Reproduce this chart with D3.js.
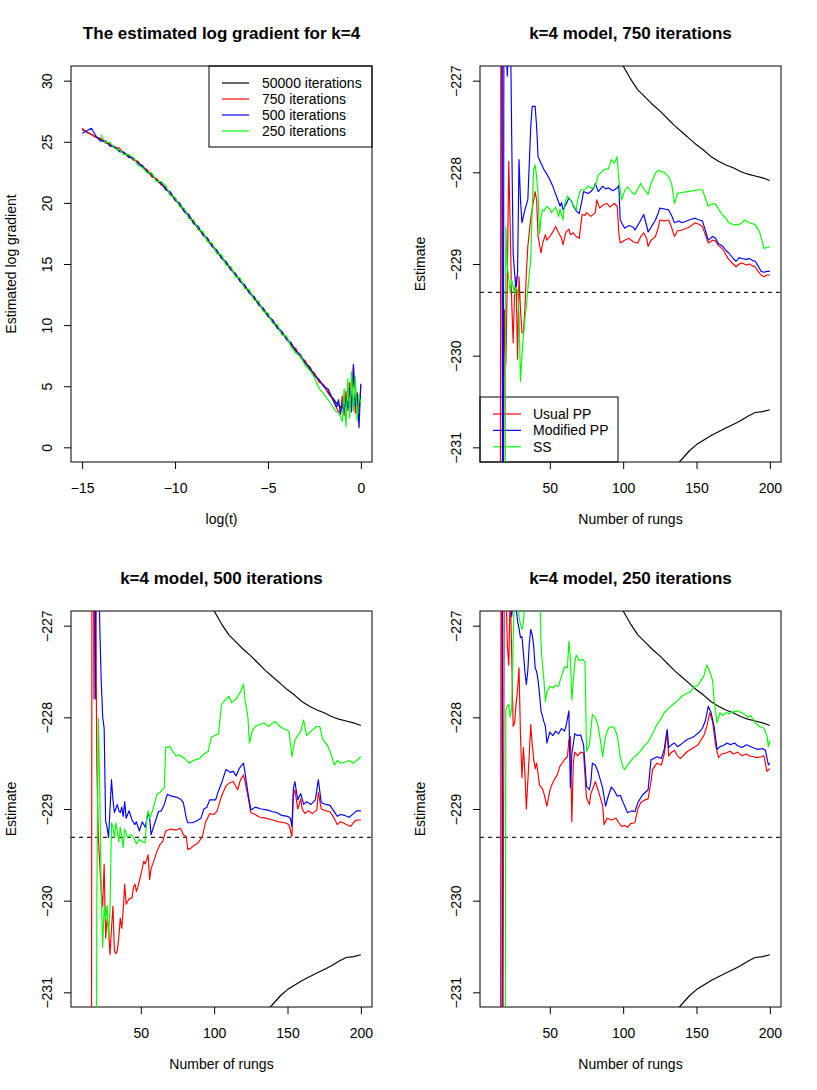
<!DOCTYPE html>
<html>
<head>
<meta charset="utf-8">
<script src="https://cdn.jsdelivr.net/npm/d3@7"></script>
<style>
  body { margin: 0; background: #fff; }
  svg { display: block; }
  text { font-family: "Liberation Sans", Arial, Helvetica, sans-serif; fill: #000; }
</style>
</head>
<body>
<div id="chart"></div>
<script>
// ---- top-left panel: estimated log gradient against log(t)
const logT = [-15, -14.75, -14.5, -14.25, -14, -13.75, -13.5, -13.25, -13, -12.75, -12.5, -12.25, -12, -11.75, -11.5, -11.25,
  -11, -10.75, -10.5, -10.25, -10, -9.75, -9.5, -9.25, -9, -8.75, -8.5, -8.25, -8, -7.75, -7.5, -7.25, -7, -6.75, -6.5,
  -6.25, -6, -5.75, -5.5, -5.25, -5, -4.75, -4.5, -4.25, -4, -3.75, -3.5, -3.25, -3, -2.75, -2.5, -2.25, -2, -1.75, -1.5,
  -1.4, -1.3, -1.2, -1.1, -1, -0.9, -0.8, -0.7, -0.6, -0.5, -0.4, -0.3, -0.2, -0.1, 0];

const grad50000 = [26, 25.8, 25.6, 25.4, 25.2, 24.98, 24.75, 24.52, 24.3, 24.08, 23.85, 23.58, 23.3, 22.95, 22.6, 22.25,
  21.9, 21.55, 21.2, 20.75, 20.3, 19.82, 19.35, 18.88, 18.4, 17.92, 17.45, 16.98, 16.5, 16.02, 15.55, 15.08, 14.6, 14.12,
  13.65, 13.18, 12.7, 12.22, 11.75, 11.28, 10.8, 10.32, 9.85, 9.38, 8.9, 8.42, 7.95, 7.45, 6.95, 6.45, 5.95, 5.48, 5, 4.5, 4,
  3.8, 3.6, 3.45, 3.3, 3.2, 3.3, 3.5, 3.4, 3.7, 3.9, 4.1, 3.9, 4, 3.8, 4.1];

const grad750 = [26.12, 25.75, 25.62, 25.35, 25.28, 24.9, 24.82, 24.55, 24.48, 24, 23.95, 23.5, 23.4, 22.88, 22.72, 22.12,
  22, 21.48, 21.3, 20.65, 20.42, 19.72, 19.48, 18.78, 18.55, 17.8, 17.58, 16.85, 16.62, 15.92, 15.68, 14.96, 14.72, 14.02,
  13.78, 13.05, 12.82, 12.1, 11.88, 11.15, 10.92, 10.2, 9.98, 9.25, 9.02, 8.3, 8.08, 7.32, 7.1, 6.3, 6.1, 5.35, 5.12, 4.4, 3.95,
  3.5, 3.2, 2.9, 2.8, 4.2, 2.6, 4.6, 3, 5.3, 3.2, 6.7, 2.8, 4.5, 3, 5.1];

const grad500 = [25.7, 25.9, 26.1, 25.45, 25.05, 25.1, 24.65, 24.6, 24.2, 24.15, 23.72, 23.68, 23.22, 23.05, 22.5, 22.38,
  21.8, 21.65, 21.05, 20.9, 20.2, 20, 19.25, 19.05, 18.3, 18.08, 17.35, 17.12, 16.4, 16.15, 15.45, 15.2, 14.5, 14.25,
  13.55, 13.3, 12.6, 12.35, 11.65, 11.4, 10.7, 10.45, 9.75, 9.5, 8.8, 8.55, 7.85, 7.6, 6.85, 6.6, 5.85, 5.55, 5, 4.75, 3.85,
  3.6, 3.3, 3.9, 2.7, 3.6, 2.9, 4, 3.2, 4.8, 2.9, 6.8, 3.4, 4.4, 1.6, 5.2];

const grad250 = [null, null, null, null, 25.6, 24.95, 24.95, 24.45, 24.35, 23.95, 23.95, 23.7, 23.1, 22.9, 22.45, 22.45,
  21.75, 21.75, 21.4, 20.6, 20.45, 19.7, 19.55, 18.7, 18.6, 17.8, 17.65, 16.85, 16.7, 15.85, 15.75, 14.9, 14.8, 13.95,
  13.85, 13, 12.9, 12.05, 11.95, 11.1, 11, 10.15, 10.05, 9.2, 9.1, 8.2, 7.7, 7.45, 6.7, 6.3, 5.75, 4.8, 4.4, 3.85, 3.3,
  3.05, 2.9, 2.8, 2.5, 2.1, 4.8, 1.7, 5.6, 2.4, 6.2, 3, 5.8, 2.2, 4.3, 3.6];

const gradLabels = ["50000 iterations", "750 iterations", "500 iterations", "250 iterations"];

// ---- rung panels: reference bounds and true value (same in every panel)
const upperN = [96, 100, 105, 110, 115, 120, 125, 130, 135, 140, 145, 150, 155, 160, 165, 170, 175, 180, 185, 190, 195, 200];
const upperEst = [-226.7, -226.84, -226.98, -227.1, -227.18, -227.26, -227.33, -227.41, -227.49, -227.56, -227.63, -227.7,
  -227.76, -227.83, -227.88, -227.92, -227.95, -227.99, -228.02, -228.04, -228.06, -228.09];
const lowerN = [136, 140, 145, 150, 155, 160, 165, 170, 175, 180, 185, 190, 195, 200];
const lowerEst = [-231.2, -231.13, -231.04, -230.97, -230.92, -230.87, -230.83, -230.79, -230.75, -230.71, -230.66,
  -230.62, -230.61, -230.59];
const trueValue = -229.31;

const methodLabels = ["Usual PP", "Modified PP", "SS"];

// 750 iterations: [rungs, estimate]
const usual750 = [[16, -236], [17, -221], [18, -233], [19, -229.5], [20, -230.1], [21, -229.2], [22, -227.88], [23, -228.6],
  [24, -229.4], [25, -229.86], [26, -229.3], [27, -229.14], [28, -230.04], [29, -229.14], [30, -229.5], [31, -229.75],
  [32, -229.75], [33, -229.5], [34, -229.1], [35, -228.81], [37, -228.5], [39, -228.3], [40, -228.21], [41, -228.3],
  [42, -228.7], [44, -228.88], [45, -228.78], [47, -228.68], [48, -228.74], [50, -228.7], [52, -228.65], [54, -228.59],
  [56, -228.66], [58, -228.72], [59, -228.79], [61, -228.65], [63, -228.62], [64, -228.68], [66, -228.66], [68, -228.7],
  [70, -228.72], [72, -228.46], [74, -228.47], [75, -228.44], [78, -228.48], [81, -228.44], [82, -228.3], [84, -228.39],
  [86, -228.36], [89, -228.34], [91, -228.38], [94, -228.34], [96, -228.37], [97, -228.66], [98, -228.77], [101, -228.74],
  [104, -228.72], [107, -228.76], [110, -228.77], [112, -228.7], [114, -228.66], [116, -228.72], [117, -228.81],
  [119, -228.74], [122, -228.7], [124, -228.6], [125, -228.52], [128, -228.53], [131, -228.52], [133, -228.6], [135, -228.7],
  [137, -228.64], [140, -228.63], [145, -228.6], [149, -228.55], [152, -228.57], [154, -228.59], [156, -228.68],
  [158, -228.77], [161, -228.74], [163, -228.75], [165, -228.8], [168, -228.84], [170, -228.9], [172, -228.95], [175, -229],
  [177, -229.03], [179, -229], [181, -228.99], [184, -229.01], [186, -229], [188, -229.02], [190, -229.03], [192, -229.08],
  [194, -229.12], [196, -229.14], [198, -229.12], [200, -229.12]];

const modified750 = [[17, -221], [18, -236], [19, -222], [20, -226.5], [21, -226.95], [22, -226.5], [23, -226.2], [24, -227.6],
  [25, -228.88], [26, -229.1], [27, -229.28], [28, -229.1], [29, -227.86], [30, -228.3], [31, -228.55], [32, -228.48],
  [33, -228.41], [35, -228.3], [36, -227.9], [37, -227.5], [38, -227.28], [40, -227.28], [41, -227.5], [42, -227.83],
  [44, -227.9], [46, -227.97], [48, -228.02], [50, -228.08], [52, -228.15], [54, -228.24], [55, -228.28], [57, -228.37],
  [58, -228.33], [59, -228.41], [61, -228.35], [63, -228.28], [65, -228.32], [66, -228.37], [68, -228.42], [70, -228.45],
  [72, -228.3], [73, -228.21], [76, -228.23], [78, -228.21], [80, -228.17], [81, -228.12], [83, -228.21], [86, -228.15],
  [88, -228.18], [90, -228.17], [93, -228.2], [96, -228.17], [97, -228.14], [98, -228.52], [100, -228.58], [101, -228.61],
  [104, -228.58], [107, -228.6], [108, -228.63], [111, -228.55], [114, -228.46], [116, -228.58], [117, -228.65],
  [119, -228.6], [122, -228.52], [124, -228.44], [125, -228.39], [128, -228.4], [131, -228.41], [133, -228.47],
  [135, -228.55], [138, -228.53], [140, -228.55], [145, -228.52], [149, -228.5], [152, -228.52], [154, -228.53],
  [156, -228.63], [158, -228.74], [161, -228.7], [163, -228.72], [165, -228.78], [168, -228.81], [170, -228.85],
  [172, -228.88], [175, -228.94], [177, -228.97], [179, -228.93], [181, -228.94], [184, -228.95], [186, -228.94],
  [188, -228.96], [190, -228.97], [192, -229.02], [194, -229.08], [196, -229.09], [198, -229.08], [200, -229.08]];

const ss750 = [[19, -236], [20, -228.59], [21, -229.03], [22, -229.15], [23, -229.32], [24, -229.17], [25, -229.25],
  [26, -229.32], [27, -229.25], [28, -229.3], [29, -229.54], [30, -230.28], [31, -230], [32, -229.79], [33, -229.6],
  [34, -229.46], [36, -229.1], [37, -228.95], [38, -228.4], [39, -227.97], [40, -227.92], [41, -228.05], [42, -228.23],
  [43, -228.67], [44, -228.5], [45, -228.41], [46, -228.42], [48, -228.37], [50, -228.4], [51, -228.44], [53, -228.4],
  [54, -228.38], [56, -228.48], [57, -228.4], [59, -228.52], [60, -228.35], [62, -228.26], [64, -228.3], [66, -228.36],
  [68, -228.41], [69, -228.3], [71, -228.19], [74, -228.19], [76, -228.15], [78, -228.17], [80, -228.17], [82, -228.1],
  [83, -228.03], [85, -228], [87, -227.97], [90, -227.96], [92, -227.86], [94, -227.9], [96, -227.83], [97, -228.08],
  [99, -228.3], [101, -228.2], [103, -228.16], [106, -228.22], [108, -228.24], [110, -228.18], [112, -228.12],
  [114, -228.18], [117, -228.24], [119, -228.12], [122, -228.01], [124, -227.98], [126, -227.99], [128, -228],
  [131, -228.05], [133, -228.12], [135, -228.34], [137, -228.23], [140, -228.22], [144, -228.21], [148, -228.2],
  [151, -228.19], [154, -228.19], [156, -228.28], [158, -228.37], [161, -228.34], [163, -228.35], [165, -228.4],
  [167, -228.45], [170, -228.5], [172, -228.55], [175, -228.57], [179, -228.57], [181, -228.55], [183, -228.52],
  [186, -228.55], [190, -228.57], [193, -228.65], [196, -228.83], [198, -228.82], [200, -228.81]];

// 500 iterations
const usual500 = [[16, -238], [17, -221], [18, -227.8], [19, -226], [20, -228.5], [21, -229.3], [22, -229.6], [23, -229.9],
  [24, -230.06], [25, -229.6], [26, -230.41], [27, -230.2], [28, -230.3], [29, -230.59], [30, -230.3], [31, -230.06],
  [32, -230.55], [33, -230.58], [34, -230.54], [35, -230.4], [36, -230.19], [37, -230.3], [38, -230.1], [39, -229.82],
  [40, -230.04], [42, -229.98], [44, -229.97], [45, -229.85], [46, -229.82], [47, -229.9], [48, -229.85], [50, -229.72],
  [52, -229.57], [53, -229.6], [55, -229.5], [56, -229.77], [57, -229.65], [59, -229.56], [61, -229.46], [63, -229.39],
  [65, -229.35], [67, -229.24], [70, -229.22], [74, -229.23], [77, -229.21], [79, -229.28], [81, -229.3], [82, -229.44],
  [84, -229.43], [86, -229.4], [89, -229.37], [92, -229.3], [94, -229.15], [97, -229.05], [100, -229.06], [102, -229.02],
  [105, -228.86], [108, -228.75], [110, -228.72], [113, -228.7], [116, -228.79], [118, -228.68], [120, -228.63],
  [121, -228.7], [123, -228.86], [125, -229.04], [128, -229.06], [131, -229.09], [135, -229.1], [140, -229.12],
  [144, -229.14], [148, -229.15], [151, -229.17], [153, -229.3], [154, -228.85], [155, -228.79], [157, -229],
  [159, -228.89], [160, -229], [162, -229.05], [164, -229.02], [167, -229.05], [170, -229.01], [171, -228.82],
  [173, -229], [176, -229.02], [179, -229.03], [181, -229.08], [184, -229.17], [186, -229.14], [188, -229.15],
  [190, -229.17], [193, -229.19], [196, -229.13], [198, -229.12], [200, -229.12]];

const modified500 = [[18, -221], [19, -227.8], [20, -225], [21, -226], [22, -227], [23, -227.6], [24, -228], [25, -228.12],
  [26, -229.13], [27, -229.2], [28, -229.31], [29, -229], [30, -228.68], [31, -228.9], [32, -229.04], [34, -228.95],
  [35, -229.02], [36, -229.04], [37, -228.98], [38, -229.08], [39, -228.92], [40, -229.1], [42, -229.02], [44, -229.12],
  [46, -229.17], [47, -229.14], [49, -229.24], [51, -229.14], [53, -229.2], [55, -229.04], [56, -229.1], [57, -229.28],
  [59, -229.18], [62, -229.03], [64, -229.02], [66, -228.95], [68, -228.84], [71, -228.86], [74, -228.87], [77, -228.89],
  [79, -228.93], [81, -229.1], [82, -229.15], [85, -229.15], [88, -229.13], [91, -229.1], [93, -229], [95, -228.98],
  [97, -228.9], [101, -228.9], [103, -228.8], [105, -228.72], [108, -228.57], [111, -228.6], [113, -228.59],
  [115, -228.64], [117, -228.56], [120, -228.5], [121, -228.6], [123, -228.82], [125, -229.01], [128, -228.98],
  [132, -229], [136, -229.01], [140, -229.03], [143, -229.04], [146, -229.07], [150, -229.08], [152, -229.1],
  [153, -229.19], [154, -228.78], [155, -228.7], [157, -228.9], [159, -228.83], [161, -228.95], [163, -228.92],
  [166, -228.95], [169, -228.9], [171, -228.68], [173, -228.93], [176, -228.95], [179, -228.96], [181, -229.01],
  [184, -229.08], [186, -229.06], [189, -229.07], [192, -229.09], [195, -229.05], [197, -229.02], [200, -229.02]];

const ss500 = [[19, -238], [20, -230], [21, -228.01], [22, -228.8], [23, -229.9], [24, -230.51], [25, -230.06], [26, -230.2],
  [27, -230.05], [28, -230.4], [29, -230.1], [30, -229.15], [31, -229.2], [32, -229.31], [33, -229.15], [34, -229.25],
  [35, -229.36], [36, -229.2], [37, -229.3], [38, -229.42], [39, -229.22], [41, -229.31], [43, -229.28], [45, -229.31],
  [47, -229.38], [49, -229.33], [51, -229.36], [53, -229.37], [54, -229.1], [55, -229.02], [56, -229.1], [58, -229.02],
  [60, -228.9], [61, -228.84], [63, -228.82], [66, -228.77], [67, -228.33], [70, -228.32], [72, -228.38], [74, -228.42],
  [76, -228.41], [78, -228.43], [80, -228.45], [83, -228.5], [86, -228.47], [90, -228.45], [93, -228.4], [96, -228.37],
  [98, -228.22], [100, -228.2], [103, -228.18], [105, -227.86], [107, -227.82], [110, -227.77], [112, -227.84],
  [115, -227.8], [118, -227.72], [120, -227.64], [121, -227.8], [123, -228], [124, -228.28], [126, -228.15],
  [128, -228.1], [131, -228.08], [134, -228.06], [137, -228.1], [140, -228.06], [142, -228.05], [145, -228.1],
  [148, -228.13], [151, -228.15], [153, -228.43], [155, -228.25], [157, -228.2], [159, -228.15], [161, -228.03],
  [163, -228.2], [166, -228.15], [170, -228.1], [172, -228.1], [174, -228.24], [177, -228.3], [179, -228.37],
  [182, -228.52], [184, -228.47], [186, -228.5], [189, -228.49], [192, -228.47], [195, -228.5], [198, -228.46],
  [200, -228.43]];

// 250 iterations
const usual250 = [[16, -240], [17, -221], [18, -232], [19, -226], [20, -226.5], [21, -227.2], [22, -227.43], [23, -226.6],
  [24, -227.3], [25, -228.1], [26, -228.06], [27, -227.85], [28, -227.7], [29, -227.46], [30, -228.2], [31, -228.66],
  [32, -228.33], [33, -228.6], [34, -229], [35, -228.7], [36, -228.4], [37, -228.08], [38, -228.3], [39, -228.45],
  [40, -228.56], [41, -228.5], [43, -228.74], [45, -228.78], [46, -228.83], [48, -228.97], [50, -228.8], [51, -228.75],
  [53, -228.68], [55, -228.63], [57, -228.53], [58, -228.51], [60, -228.46], [62, -228.43], [63, -228.25], [64, -228.21],
  [65, -229.14], [66, -228.5], [67, -228.38], [69, -228.42], [71, -228.38], [73, -228.39], [75, -228.88], [77, -228.95],
  [78, -228.83], [80, -228.75], [81, -228.7], [83, -228.8], [86, -228.96], [87, -229.17], [89, -229.1], [92, -229.12],
  [95, -229.1], [97, -229.15], [99, -229.19], [101, -229.18], [103, -229.2], [105, -229.16], [108, -229.15],
  [110, -229], [112, -228.93], [115, -228.9], [117, -228.89], [119, -228.7], [120, -228.57], [123, -228.5],
  [126, -228.52], [128, -228.4], [130, -228.15], [131, -228.42], [133, -228.38], [135, -228.36], [137, -228.42],
  [139, -228.45], [142, -228.4], [144, -228.37], [147, -228.34], [149, -228.32], [151, -228.3], [153, -228.25],
  [155, -228.2], [157, -228.1], [159, -227.95], [161, -228.05], [163, -228.3], [165, -228.44], [167, -228.4],
  [170, -228.39], [173, -228.37], [175, -228.4], [178, -228.38], [181, -228.42], [184, -228.4], [186, -228.42],
  [189, -228.43], [191, -228.44], [194, -228.43], [196, -228.42], [198, -228.59], [200, -228.56]];

const modified250 = [[17, -240], [18, -221], [19, -226], [20, -226.3], [21, -226.5], [22, -226.7], [23, -226.6], [24, -226.9],
  [25, -226.7], [26, -226.5], [27, -226.8], [28, -226.95], [29, -227.03], [30, -227.13], [31, -227.12], [32, -227.3],
  [33, -227.5], [34, -227.64], [35, -227.49], [36, -227.2], [37, -227.04], [38, -227.1], [39, -227.22], [40, -227.46],
  [41, -227.5], [42, -227.6], [43, -227.75], [44, -227.93], [46, -228.05], [47, -228.1], [48, -228.28], [50, -228.16],
  [52, -228.2], [54, -228.15], [56, -228.18], [58, -228.12], [60, -228.15], [61, -228.1], [63, -227.93], [64, -228.77],
  [65, -228.4], [67, -228.18], [69, -228.2], [71, -228.19], [73, -228.3], [75, -228.75], [77, -228.79], [78, -228.7],
  [79, -228.5], [81, -228.52], [83, -228.6], [86, -228.77], [88, -228.97], [90, -228.85], [92, -228.76], [94, -228.8],
  [96, -228.86], [98, -228.85], [100, -228.93], [103, -229.04], [106, -229.02], [108, -229.03], [110, -228.93],
  [113, -228.85], [117, -228.79], [119, -228.46], [121, -228.45], [123, -228.43], [126, -228.45], [128, -228.35],
  [130, -228.13], [131, -228.33], [133, -228.3], [135, -228.28], [137, -228.32], [139, -228.3], [142, -228.26],
  [144, -228.24], [147, -228.22], [149, -228.2], [152, -228.16], [154, -228.12], [156, -228.04], [158, -227.88],
  [160, -227.95], [162, -228.1], [164, -228.35], [166, -228.32], [168, -228.31], [171, -228.28], [173, -228.3],
  [176, -228.28], [178, -228.31], [181, -228.33], [184, -228.3], [187, -228.32], [190, -228.34], [192, -228.35],
  [195, -228.34], [197, -228.36], [199, -228.52], [200, -228.5]];

const ss250 = [[19, -240], [20, -227.92], [21, -227.88], [22, -227.86], [23, -228], [24, -227.9], [25, -227.2], [26, -226.5],
  [27, -226.7], [28, -226.6], [29, -226.9], [30, -226.99], [31, -227.04], [32, -226.97], [33, -226.7], [34, -226.5],
  [36, -226.4], [38, -226.6], [40, -226.5], [42, -226.6], [43, -226.5], [44, -227.2], [45, -227.43], [46, -227.6],
  [47, -227.83], [48, -227.72], [50, -227.66], [52, -227.68], [54, -227.65], [56, -227.66], [57, -227.6], [59, -227.5],
  [60, -227.45], [62, -227.46], [63, -227.17], [64, -227.35], [65, -227.81], [67, -227.4], [68, -227.32], [70, -227.38],
  [72, -227.37], [74, -227.39], [75, -228.37], [77, -228.3], [79, -227.97], [81, -228], [83, -228.1], [85, -228.3],
  [86, -228.43], [88, -228.2], [90, -228.12], [92, -228.1], [94, -228.12], [96, -228.2], [98, -228.43], [100, -228.55],
  [101, -228.57], [104, -228.5], [107, -228.44], [110, -228.4], [112, -228.36], [115, -228.3], [117, -228.27],
  [120, -228.18], [123, -228.08], [126, -228.01], [128, -227.95], [131, -227.9], [134, -227.86], [137, -227.82],
  [140, -227.77], [143, -227.74], [146, -227.72], [148, -227.67], [151, -227.65], [153, -227.6], [155, -227.55],
  [157, -227.43], [159, -227.5], [161, -227.6], [162, -227.81], [164, -228.06], [166, -227.95], [168, -227.98],
  [170, -227.95], [172, -227.96], [175, -227.94], [178, -227.93], [181, -227.95], [183, -227.97], [185, -228],
  [187, -227.98], [190, -228.06], [193, -228.1], [196, -228.12], [198, -228.2], [199, -228.32], [200, -228.25]];

// ---- layout
const W = 817, H = 1090;
const cellX = [0, 409], cellY = [0, 545];
const box = { left: 71, right: 372, top: 66, bottom: 462 };
const colors = { black: "#000000", red: "#ff0000", blue: "#0000ff", green: "#00ff00" };

const svg = d3.select("#chart").append("svg")
  .attr("width", W)
  .attr("height", H);

// draws box, axes, title and labels of one panel, returns the plotting group
function makePanel(col, row, id, title, xLabel, yLabel, x, y, xTicks, yTicks) {
  const g = svg.append("g").attr("transform", `translate(${cellX[col]},${cellY[row]})`);

  g.append("clipPath").attr("id", id)
    .append("rect")
    .attr("x", box.left).attr("y", box.top)
    .attr("width", box.right - box.left).attr("height", box.bottom - box.top);

  const fmt = d3.format("d");

  const xAxis = g.append("g")
    .attr("transform", `translate(0,${box.bottom})`)
    .call(d3.axisBottom(x).tickValues(xTicks).tickFormat(fmt).tickSize(7).tickSizeOuter(0));
  xAxis.select(".domain").remove();
  xAxis.selectAll("line").attr("stroke", "#000");
  xAxis.selectAll("text")
    .attr("y", 31).attr("dy", 0)
    .style("font-size", "14px")
    .style("font-family", "Liberation Sans, Arial, sans-serif")
    .attr("fill", "#000");

  const yAxis = g.append("g")
    .attr("transform", `translate(${box.left},0)`)
    .call(d3.axisLeft(y).tickValues(yTicks).tickFormat(fmt).tickSize(7).tickSizeOuter(0));
  yAxis.select(".domain").remove();
  yAxis.selectAll("line").attr("stroke", "#000");
  yAxis.selectAll("text")
    .attr("x", 0).attr("y", -19).attr("dy", 0)
    .attr("transform", "rotate(-90)")
    .style("text-anchor", "middle")
    .style("font-size", "14px")
    .style("font-family", "Liberation Sans, Arial, sans-serif")
    .attr("fill", "#000");

  const cx = (box.left + box.right) / 2, cy = (box.top + box.bottom) / 2;
  g.append("text")
    .attr("x", cx).attr("y", 39)
    .attr("text-anchor", "middle")
    .style("font-size", "17px")
    .style("font-weight", "bold")
    .text(title);
  g.append("text")
    .attr("x", cx).attr("y", box.bottom + 62)
    .attr("text-anchor", "middle")
    .style("font-size", "14px")
    .text(xLabel);
  g.append("text")
    .attr("transform", `translate(${box.left - 55},${cy}) rotate(-90)`)
    .attr("text-anchor", "middle")
    .style("font-size", "14px")
    .text(yLabel);

  g.append("rect")
    .attr("x", box.left).attr("y", box.top)
    .attr("width", box.right - box.left).attr("height", box.bottom - box.top)
    .attr("fill", "none").attr("stroke", "#000").attr("stroke-width", 1);

  return g;
}

function drawLegend(g, left, top, right, bottom, lineX, textX, firstY, step, labels, cols) {
  g.append("rect")
    .attr("x", left).attr("y", top)
    .attr("width", right - left).attr("height", bottom - top)
    .attr("fill", "none").attr("stroke", "#000").attr("stroke-width", 1);
  labels.forEach((lab, i) => {
    const ly = firstY + i * step;
    g.append("line")
      .attr("x1", lineX[0]).attr("x2", lineX[1]).attr("y1", ly).attr("y2", ly)
      .attr("stroke", cols[i]).attr("stroke-width", 1.2);
    g.append("text")
      .attr("x", textX).attr("y", ly).attr("dy", "0.35em")
      .style("font-size", "14px")
      .text(lab);
  });
}

function addLine(g, id, data, x, y, color, dash) {
  const line = d3.line()
    .defined(d => d[1] != null)
    .x(d => x(d[0]))
    .y(d => y(d[1]));
  const p = g.append("path")
    .datum(data)
    .attr("clip-path", `url(#${id})`)
    .attr("fill", "none")
    .attr("stroke", color)
    .attr("stroke-width", 1.15)
    .attr("stroke-linejoin", "round")
    .attr("d", line);
  if (dash) p.attr("stroke-dasharray", dash);
  return p;
}

// ---- panel 1: log gradient
{
  const x = d3.scaleLinear().domain([-15.6, 0.6]).range([box.left, box.right]);
  const y = d3.scaleLinear().domain([-1.2, 31.2]).range([box.bottom, box.top]);
  const g = makePanel(0, 0, "clipGrad", "The estimated log gradient for k=4", "log(t)", "Estimated log gradient",
    x, y, [-15, -10, -5, 0], [0, 5, 10, 15, 20, 25, 30]);

  const series = [grad50000, grad750, grad500, grad250];
  const cols = [colors.black, colors.red, colors.blue, colors.green];
  series.forEach((vals, i) => {
    addLine(g, "clipGrad", logT.map((t, j) => [t, vals[j]]), x, y, cols[i]);
  });
  drawLegend(g, 209, box.top, box.right, 147, [222, 249], 262, 83, 16, gradLabels, cols);
}

// ---- panels 2-4: estimates against number of rungs
const rungPanels = [
  { col: 1, row: 0, title: "k=4 model, 750 iterations", usual: usual750, modified: modified750, ss: ss750, legend: true },
  { col: 0, row: 1, title: "k=4 model, 500 iterations", usual: usual500, modified: modified500, ss: ss500, legend: false },
  { col: 1, row: 1, title: "k=4 model, 250 iterations", usual: usual250, modified: modified250, ss: ss250, legend: false }
];

rungPanels.forEach((p, k) => {
  const id = "clipRung" + k;
  const x = d3.scaleLinear().domain([2.4, 207.6]).range([box.left, box.right]);
  const y = d3.scaleLinear().domain([-231.16, -226.84]).range([box.bottom, box.top]);
  const g = makePanel(p.col, p.row, id, p.title, "Number of rungs", "Estimate",
    x, y, [50, 100, 150, 200], [-231, -230, -229, -228, -227]);

  if (p.legend) {
    drawLegend(g, box.left, 397, 209, box.bottom, [84, 112], 124, 414, 16.4, methodLabels,
      [colors.red, colors.blue, colors.green]);
  }

  addLine(g, id, upperN.map((n, j) => [n, upperEst[j]]), x, y, colors.black);
  addLine(g, id, lowerN.map((n, j) => [n, lowerEst[j]]), x, y, colors.black);
  addLine(g, id, [[2.4, trueValue], [207.6, trueValue]], x, y, "#222", "4,4");
  addLine(g, id, p.usual, x, y, colors.red);
  addLine(g, id, p.modified, x, y, colors.blue);
  addLine(g, id, p.ss, x, y, colors.green);
});
</script>
</body>
</html>
